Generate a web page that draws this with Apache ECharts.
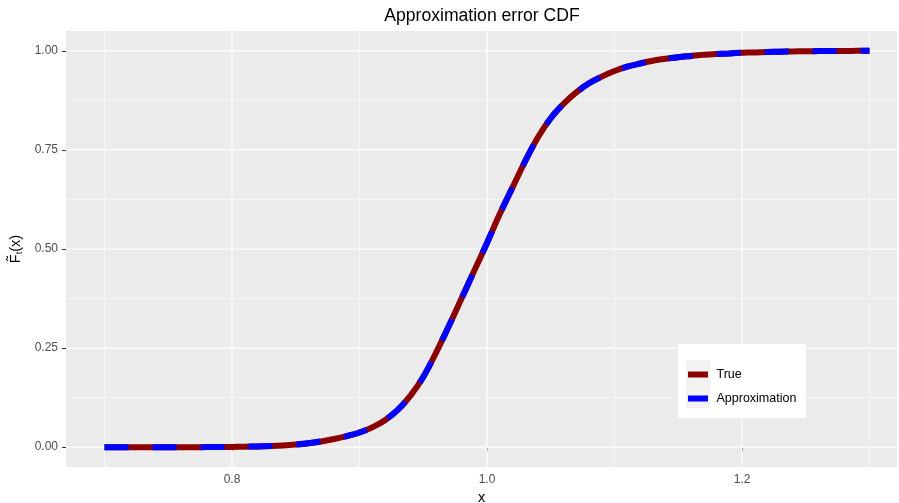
<!DOCTYPE html>
<html>
<head>
<meta charset="utf-8">
<script src="https://cdn.jsdelivr.net/npm/echarts@6/dist/echarts.min.js"></script>
<style>
  html, body { margin: 0; padding: 0; width: 100%; height: 100%; overflow: hidden; background: #ffffff; }
  #chart { width: 899px; height: 503px; }
</style>
</head>
<body>
<div id="chart"></div>
<script>
// Evaluation grid for the CDF curves
const xValues = [
  0.70, 0.71, 0.72, 0.73, 0.74, 0.75, 0.76, 0.77, 0.78, 0.79,
  0.80, 0.81, 0.82, 0.83, 0.84, 0.85, 0.86, 0.87, 0.88, 0.89,
  0.90, 0.91, 0.92, 0.93, 0.94, 0.95, 0.96, 0.97, 0.98, 0.99,
  1.00, 1.01, 1.02, 1.03, 1.04, 1.05, 1.06, 1.07, 1.08, 1.09,
  1.10, 1.11, 1.12, 1.13, 1.14, 1.15, 1.16, 1.17, 1.18, 1.19,
  1.20, 1.21, 1.22, 1.23, 1.24, 1.25, 1.26, 1.27, 1.28, 1.29,
  1.30
];

// True CDF
const trueCdf = [
  0.0000, 0.0000, 0.0000, 0.0000, 0.0000, 0.0000, 0.0001, 0.0001, 0.0002, 0.0004,
  0.0007, 0.0011, 0.0018, 0.0028, 0.0043, 0.0067, 0.0100, 0.0145, 0.0205, 0.0280,
  0.0370, 0.0500, 0.0680, 0.0940, 0.1300, 0.1770, 0.2380, 0.3050, 0.3750, 0.4450,
  0.5150, 0.5880, 0.6550, 0.7220, 0.7820, 0.8300, 0.8660, 0.8950, 0.9180, 0.9350,
  0.9490, 0.9600, 0.9680, 0.9750, 0.9800, 0.9840, 0.9870, 0.9900, 0.9920, 0.9935,
  0.9950, 0.9960, 0.9970, 0.9978, 0.9984, 0.9989, 0.9993, 0.9995, 0.9997, 0.9999,
  1.0000
];

// Approximated CDF
const approxCdf = [
  0.0000, 0.0000, 0.0000, 0.0000, 0.0000, 0.0000, 0.0001, 0.0001, 0.0002, 0.0004,
  0.0007, 0.0011, 0.0018, 0.0028, 0.0043, 0.0067, 0.0100, 0.0145, 0.0205, 0.0280,
  0.0370, 0.0500, 0.0680, 0.0940, 0.1300, 0.1770, 0.2380, 0.3050, 0.3750, 0.4450,
  0.5150, 0.5880, 0.6550, 0.7220, 0.7820, 0.8300, 0.8660, 0.8950, 0.9180, 0.9350,
  0.9490, 0.9600, 0.9680, 0.9750, 0.9800, 0.9840, 0.9870, 0.9900, 0.9920, 0.9935,
  0.9950, 0.9960, 0.9970, 0.9978, 0.9984, 0.9989, 0.9993, 0.9995, 0.9997, 0.9999,
  1.0000
];

// Axis breaks
const xMajorTicks = [0.8, 1.0, 1.2];
const xMinorTicks = [0.7, 0.9, 1.1, 1.3];
const yMajorTicks = [0, 0.25, 0.5, 0.75, 1.0];
const yMinorTicks = [0.125, 0.375, 0.625, 0.875];

const seriesNames = ['True', 'Approximation'];
const seriesColors = ['#8b0000', '#0000ff'];

const X_MIN = 0.6698, X_MAX = 1.3216;
const Y_MIN = -0.05, Y_MAX = 1.05;

const FONT = '"Liberation Sans", Arial, sans-serif';

function pairs(xs, ys) {
  return xs.map((x, i) => [x, ys[i]]);
}

// Panel grid lines, drawn as plain line series beneath the curves
function gridSeries(values, vertical, width) {
  return values.map(v => ({
    type: 'line',
    silent: true,
    z: 1,
    showSymbol: false,
    animation: false,
    lineStyle: { color: '#ffffff', width: width },
    data: vertical ? [[v, Y_MIN], [v, Y_MAX]] : [[X_MIN, v], [X_MAX, v]]
  }));
}

const chart = echarts.init(document.getElementById('chart'), null, { renderer: 'canvas', width: 899, height: 503 });

chart.setOption({
  animation: false,
  backgroundColor: '#ffffff',
  title: {
    text: 'Approximation error CDF',
    left: 477,
    textAlign: 'center',
    top: 2,
    textStyle: { fontFamily: FONT, fontSize: 17.6, fontWeight: 'normal', color: '#000000' }
  },
  grid: {
    left: 66, right: 2, top: 31, bottom: 36,
    outerBoundsMode: 'none',
    containLabel: false,
    show: true, backgroundColor: '#ebebeb', borderWidth: 0
  },
  legend: {
    data: seriesNames,
    orient: 'vertical',
    left: 678,
    top: 344,
    padding: [24, 6, 14, 10],
    itemGap: 11,
    itemWidth: 20,
    itemHeight: 6,
    icon: 'rect',
    backgroundColor: 'transparent',
    z: 10,
    textStyle: { fontFamily: FONT, fontSize: 12.5, color: '#000000' },
    formatter: name => ' ' + name
  },
  graphic: [
    { type: 'rect', z: 5, shape: { x: 678, y: 344, width: 128, height: 74 }, style: { fill: '#ffffff' } },
    { type: 'rect', z: 5, shape: { x: 686, y: 360, width: 24, height: 48 }, style: { fill: '#f2f2f2' } }
  ],
  xAxis: {
    type: 'value',
    min: X_MIN,
    max: X_MAX,
    name: 'x',
    nameLocation: 'middle',
    nameGap: 19,
    nameTextStyle: { fontFamily: FONT, fontSize: 14.5, color: '#000000' },
    axisLine: { show: false },
    axisTick: { show: true, customValues: xMajorTicks, length: 4, lineStyle: { color: '#333333', width: 1 } },
    axisLabel: {
      customValues: xMajorTicks,
      margin: 7,
      fontFamily: FONT, fontSize: 12, color: '#4d4d4d',
      formatter: v => v.toFixed(1)
    },
    splitLine: { show: false }
  },
  yAxis: {
    type: 'value',
    min: Y_MIN,
    max: Y_MAX,
    name: '{a|F\u0303}{b|t}{a|(x)}',
    nameLocation: 'middle',
    nameRotate: 90,
    nameGap: 46,
    nameTextStyle: {
      fontFamily: FONT, fontSize: 14.5, color: '#000000', align: 'center', verticalAlign: 'middle',
      rich: {
        a: { fontFamily: FONT, fontSize: 14.5, color: '#000000' },
        b: { fontFamily: FONT, fontSize: 9, color: '#000000', padding: [7, 0, 0, 0] }
      }
    },
    axisLine: { show: false },
    axisTick: { show: true, customValues: yMajorTicks, length: 4, lineStyle: { color: '#333333', width: 1 } },
    axisLabel: {
      customValues: yMajorTicks,
      margin: 8,
      fontFamily: FONT, fontSize: 12, color: '#4d4d4d',
      formatter: v => v.toFixed(2)
    },
    splitLine: { show: false }
  },
  series: [
    ...gridSeries(xMinorTicks, true, 0.6),
    ...gridSeries(yMinorTicks, false, 0.6),
    ...gridSeries(xMajorTicks, true, 1.2),
    ...gridSeries(yMajorTicks, false, 1.2),
    {
      name: seriesNames[0],
      type: 'line',
      data: pairs(xValues, trueCdf),
      smooth: 0.3,
      showSymbol: false,
      z: 2,
      color: seriesColors[0],
      lineStyle: { color: seriesColors[0], width: 6, cap: 'butt' }
    },
    {
      name: seriesNames[1],
      type: 'line',
      data: pairs(xValues, approxCdf),
      smooth: 0.3,
      showSymbol: false,
      z: 3,
      color: seriesColors[1],
      lineStyle: { color: seriesColors[1], width: 6, type: [24, 24], cap: 'butt' }
    }
  ]
});
</script>
</body>
</html>
